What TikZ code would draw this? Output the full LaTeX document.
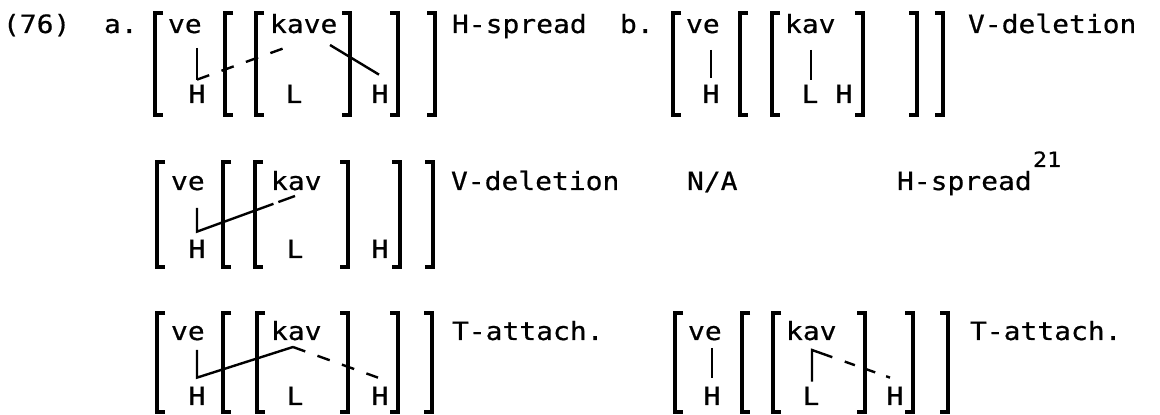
\documentclass[tikz,border=0pt]{standalone}
\usepackage{fontspec}
\newfontfamily\tw[FakeStretch=1.11, FakeBold=0.6]{DejaVu Sans Mono}
\usetikzlibrary{calc}
\newcommand\mainf{\tw\fontsize{12.6pt}{14pt}\selectfont}
\newcommand\supf{\tw\fontsize{10.5pt}{12pt}\selectfont}
\newcommand\lbrk[3]{\draw[brk] (#1+8,#2) -- (#1,#2) -- (#1,#3) -- (#1+8,#3);}
\newcommand\rbrk[3]{\draw[brk] (#1-8,#2) -- (#1,#2) -- (#1,#3) -- (#1-8,#3);}
\tikzset{
  txt/.style={inner sep=0pt, outer sep=0pt, anchor=base west, font=\mainf},
  ctxt/.style={txt, anchor=base},
  brk/.style={line width=1.6pt, line join=miter, line cap=butt},
  assoc/.style={line width=1.2pt, line cap=butt, line join=miter},
  dsh/.style={assoc, dash pattern=on 6.5pt off 6.5pt},
}
\begin{document}
\begin{tikzpicture}[x=0.5pt, y=-0.5pt]
\fill[white] (0,0) rectangle (1160,415);
\useasboundingbox (0,0) rectangle (1160,415);

% ---------------- Row 1 ----------------
\node[txt] (n76) at (3,33) {(76)};
\node[txt] (na) at (104,33) {a.};
\node[txt] (ve1) at (168,33) {ve};
\node[ctxt] (H1a) at (197,103) {H};
\node[txt] (kave) at (270,33) {kave};
\node[ctxt] (L1a) at (294,103) {L};
\node[ctxt] (H1b) at (380,103) {H};
\node[txt] (hs1) at (452,33) {H-spread};
\lbrk{155}{13}{115} \lbrk{225}{13}{115} \lbrk{256}{13}{115}
\rbrk{350}{13}{115} \rbrk{398}{13}{115} \rbrk{435}{13}{115}
\coordinate (p1) at ($(H1a.north)+(0,-5)$);
\coordinate (q1) at ($(p1 |- ve1.base)+(0,15)$);
\coordinate (r1) at ($(L1a.north |- kave.base)+(-4,13)$);
\coordinate (e1) at ($(kave.base west)+(60,12)$);
\coordinate (s1) at ($(H1b.north)+(-1,-10)$);
\draw[assoc] (q1) -- (p1);
\draw[dsh] (p1) -- (r1);
\draw[assoc] (e1) -- (s1);

\node[txt] (nb) at (620,33) {b.};
\node[txt] (ve1b) at (686,33) {ve};
\node[ctxt] (H1c) at (711,103) {H};
\node[txt] (kav1) at (785,33) {kav};
\node[ctxt] (L1b) at (810,103) {L};
\node[ctxt] (H1d) at (844,103) {H};
\node[txt] (vd1) at (968,33) {V-deletion};
\lbrk{673}{13}{115} \lbrk{740}{13}{115} \lbrk{772}{13}{115}
\rbrk{863}{13}{115} \rbrk{917}{13}{115} \rbrk{943}{13}{115}
\coordinate (p1b) at ($(H1c.north)+(0,-7)$);
\coordinate (q1b) at ($(p1b |- ve1b.base)+(0,17)$);
\coordinate (l1b) at ($(L1b.north)+(1,-5)$);
\coordinate (m1b) at ($(l1b |- kav1.base)+(0,17)$);
\draw[assoc] (q1b) -- (p1b);
\draw[assoc] (m1b) -- (l1b);

% ---------------- Row 2 ----------------
\node[txt] (ve2) at (171,190) {ve};
\node[ctxt] (H2a) at (197,258) {H};
\node[txt] (kav2) at (271,190) {kav};
\node[ctxt] (L2) at (295,258) {L};
\node[ctxt] (H2b) at (380,258) {H};
\node[txt] (vd2) at (451,190) {V-deletion};
\node[txt] (na2) at (687,190) {N/A};
\node[txt] (hs2) at (897,190) {H-spread};
\node[txt, font=\supf] (sup) at (1033,167) {21};
\lbrk{157}{162}{267} \lbrk{223}{162}{267} \lbrk{255}{162}{267}
\rbrk{348}{162}{267} \rbrk{400}{162}{267} \rbrk{433}{162}{267}
\coordinate (p2) at ($(H2a.north)+(0,-8)$);
\coordinate (q2) at ($(p2 |- ve2.base)+(0,18)$);
\coordinate (r2) at ($(L2.north |- kav2.base)+(0,6)$);
\draw[assoc] (q2) -- (p2) -- ($(p2)!0.78!(r2)$);
\draw[assoc] ($(p2)!0.83!(r2)$) -- (r2);

% ---------------- Row 3 ----------------
\node[txt] (ve3) at (171,340) {ve};
\node[ctxt] (H3a) at (197,405) {H};
\node[txt] (kav3) at (271,340) {kav};
\node[ctxt] (L3) at (295,405) {L};
\node[ctxt] (H3b) at (380,405) {H};
\node[txt] (ta1) at (452,340) {T-attach.};
\lbrk{157}{313}{412} \lbrk{223}{313}{412} \lbrk{257}{313}{412}
\rbrk{348}{313}{412} \rbrk{398}{313}{412} \rbrk{432}{313}{412}
\coordinate (p3) at ($(H3a.north)+(0,-9)$);
\coordinate (q3) at ($(p3 |- ve3.base)+(0,10)$);
\coordinate (r3) at ($(L3.north |- kav3.base)+(-2,7)$);
\coordinate (s3) at ($(H3b.north)+(-2,-9)$);
\draw[assoc] (q3) -- (p3) -- (r3);
\draw[dsh] (r3) -- (s3);

\node[txt] (ve3b) at (688,340) {ve};
\node[ctxt] (H3c) at (712,405) {H};
\node[txt] (kav3b) at (786,340) {kav};
\node[ctxt] (L3b) at (811,405) {L};
\node[ctxt] (H3d) at (895,405) {H};
\node[txt] (ta2) at (970,340) {T-attach.};
\lbrk{675}{313}{412} \lbrk{742}{313}{412} \lbrk{773}{313}{412}
\rbrk{865}{313}{412} \rbrk{913}{313}{412} \rbrk{948}{313}{412}
\coordinate (p4) at ($(H3c.north)+(0,-9)$);
\coordinate (q4) at ($(p4 |- ve3b.base)+(0,8)$);
\coordinate (l4) at ($(L3b.north)+(1,-5)$);
\coordinate (m4) at ($(l4 |- kav3b.base)+(0,10)$);
\coordinate (s4) at ($(H3d.north)+(-5,-9)$);
\draw[assoc] (q4) -- (p4);
\draw[assoc] (l4) -- (m4) -- ($(m4)!0.26!(s4)$);
\draw[assoc] ($(m4)!0.42!(s4)$) -- ($(m4)!0.55!(s4)$);
\draw[assoc] ($(m4)!0.70!(s4)$) -- ($(m4)!0.81!(s4)$);
\draw[assoc] ($(m4)!0.95!(s4)$) -- (s4);
\end{tikzpicture}
\end{document}
